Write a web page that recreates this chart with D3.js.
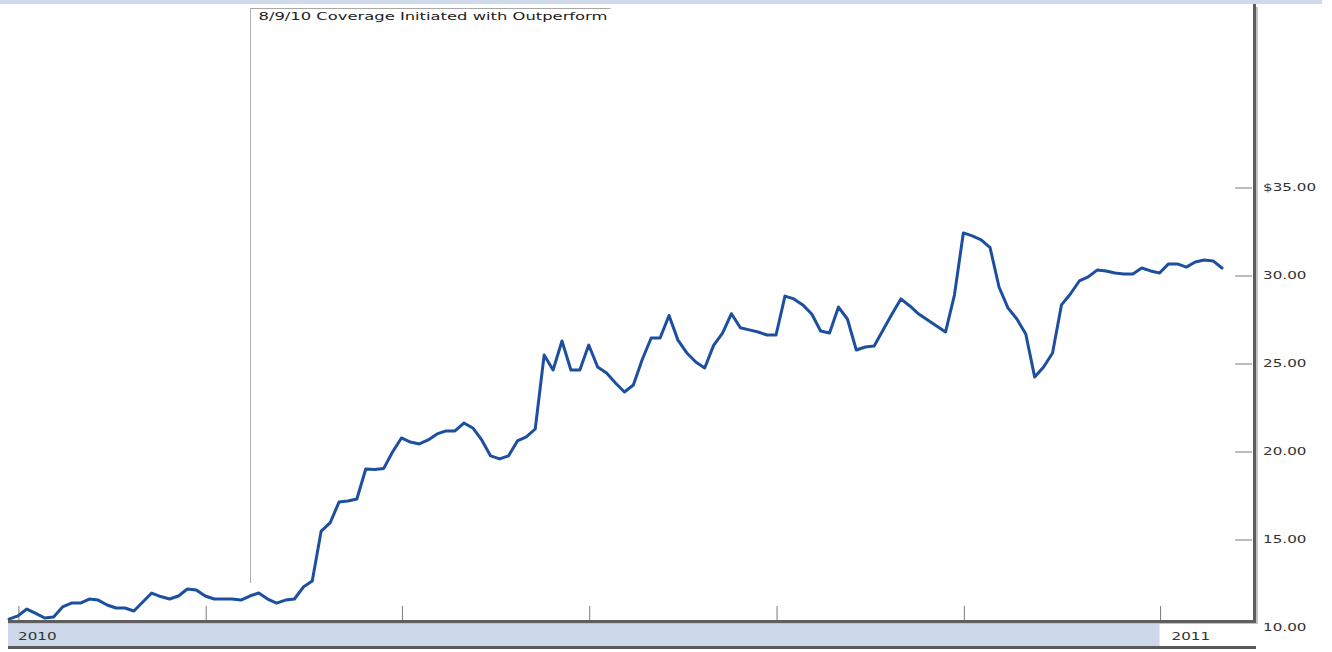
<!DOCTYPE html>
<html><head><meta charset="utf-8">
<script src="https://cdn.jsdelivr.net/npm/d3@7"></script>
<style>html,body{margin:0;padding:0;background:#fff;} svg{display:block;}</style>
</head><body><svg id="chart" width="1332" height="652"></svg>
<script>
// ---- data ----
const startDate = "2010-06-30";
const endDate = "2011-01-12";
const holidays = ["2010-07-05", "2010-09-06", "2010-11-25", "2010-12-24"];
const closes = [
  10.45, 10.63, 11.02, 10.77, 10.51, 10.57, 11.14, 11.36, 11.36, 11.59,
  11.53, 11.25, 11.08, 11.08, 10.91, 11.42, 11.93, 11.73, 11.59, 11.76,
  12.16, 12.10, 11.76, 11.59, 11.59, 11.59, 11.53, 11.76, 11.93, 11.59,
  11.36, 11.53, 11.59, 12.27, 12.61, 15.45, 15.91, 17.10, 17.16, 17.27,
  18.98, 18.95, 19.00, 19.94, 20.74, 20.51, 20.40, 20.63, 20.97, 21.14,
  21.14, 21.59, 21.31, 20.63, 19.72, 19.55, 19.72, 20.57, 20.80, 21.25,
  25.45, 24.60, 26.25, 24.60, 24.60, 26.02, 24.77, 24.43, 23.86, 23.35,
  23.75, 25.20, 26.42, 26.42, 27.70, 26.30, 25.57, 25.06, 24.72, 26.00,
  26.70, 27.80, 27.00, 26.88, 26.76, 26.59, 26.59, 28.80, 28.64, 28.30,
  27.78, 26.82, 26.70, 28.18, 27.50, 25.74, 25.91, 25.97, 26.88, 27.78,
  28.64, 28.24, 27.78, 27.44, 27.10, 26.76, 28.86, 32.39, 32.22, 31.99,
  31.55, 29.32, 28.13, 27.50, 26.65, 24.20, 24.77, 25.57, 28.30, 28.92,
  29.66, 29.89, 30.28, 30.23, 30.11, 30.06, 30.06, 30.40, 30.23, 30.11,
  30.63, 30.63, 30.45, 30.74, 30.85, 30.80, 30.40
];
const yTickValues = [10, 15, 20, 25, 30, 35];
const yTickLabels = ["10.00", "15.00", "20.00", "25.00", "30.00", "$35.00"];
const monthTickDates = ["2010-07-01", "2010-08-02", "2010-09-01", "2010-10-01", "2010-11-01", "2010-12-01", "2011-01-03"];
const yearLabels = ["2010", "2011"];
const yearStartDates = ["2010-06-30", "2011-01-03"];
const annotationDate = "2010-08-09";
const annotationText = "8/9/10 Coverage Initiated with Outperform";

// ---- trading calendar ----
const fmt = d3.utcFormat("%Y-%m-%d");
const tradingDays = d3.utcDays(new Date(startDate + "T00:00Z"), d3.utcDay.offset(new Date(endDate + "T00:00Z"), 1))
  .filter(d => d.getUTCDay() !== 0 && d.getUTCDay() !== 6 && !holidays.includes(fmt(d)))
  .map(fmt);
const idx = s => tradingDays.indexOf(s);

// ---- scales ----
const x = d3.scaleLinear().domain([0, tradingDays.length - 1]).range([9, 1222]);
const y = d3.scaleLinear().domain([10, 35]).range([627, 187]);

const svg = d3.select("#chart");
const TXT = "DejaVu Sans, Verdana, sans-serif";
const axisX = 1253, baseY = 620;

// top band
svg.append("rect").attr("x", 0).attr("y", 0).attr("width", 1322).attr("height", 4).attr("fill", "#cfdbeb");

// annotation
const ax = Math.round(x(idx(annotationDate))) + 0.5;
svg.append("line").attr("x1", ax).attr("x2", ax).attr("y1", 8).attr("y2", 583).attr("stroke", "#b0b0b0").attr("stroke-width", 1);
svg.append("line").attr("x1", ax).attr("x2", ax + 360).attr("y1", 8.5).attr("y2", 8.5).attr("stroke", "#a8a8a8").attr("stroke-width", 1);
svg.append("text").attr("x", ax + 8).attr("y", 20).attr("font-family", TXT).attr("font-size", 11)
  .attr("fill", "#222").attr("textLength", 349).attr("lengthAdjust", "spacingAndGlyphs").text(annotationText);

// x ticks (month starts)
const xAxis = d3.axisTop(x).tickValues(monthTickDates.map(idx)).tickSize(14).tickFormat("");
const gx = svg.append("g").attr("transform", `translate(0.5,${baseY})`).call(xAxis);
gx.select(".domain").remove();
gx.selectAll("line").attr("stroke", "#7a7a7a");

// y tick marks (left of the axis line)
const yTicksAxis = d3.axisLeft(y).tickValues(yTickValues.filter(v => v > 10)).tickSize(17).tickFormat("");
const gyt = svg.append("g").attr("transform", `translate(${axisX - 1},0.5)`).call(yTicksAxis);
gyt.select(".domain").remove();
gyt.selectAll("line").attr("stroke", "#7a7a7a");

// y labels (right of the axis line)
const yLabAxis = d3.axisRight(y).tickValues(yTickValues).tickSize(0).tickFormat((d, i) => yTickLabels[i]);
const gyl = svg.append("g").attr("transform", `translate(${axisX + 10},0)`).call(yLabAxis);
gyl.select(".domain").remove();
gyl.selectAll("text").attr("x", 0).attr("dy", "0.35em").attr("transform", "scale(1.38,1)")
  .attr("font-family", TXT).attr("font-size", 11).attr("fill", "#333");

// price line
svg.append("path").datum(closes)
  .attr("d", d3.line().x((d, i) => x(i)).y(d => y(d)))
  .attr("fill", "none").attr("stroke", "#1c4f9f").attr("stroke-width", 3)
  .attr("stroke-linejoin", "round").attr("stroke-linecap", "round");

// frame: right axis line and bottom axis line
svg.append("rect").attr("x", axisX).attr("y", 4).attr("width", 3).attr("height", baseY + 3 - 4).attr("fill", "#5e5e5e");
svg.append("rect").attr("x", axisX + 3).attr("y", 7).attr("width", 2).attr("height", baseY - 3).attr("fill", "#c4c4c4");
svg.append("rect").attr("x", 8).attr("y", baseY).attr("width", axisX + 3 - 8).attr("height", 3).attr("fill", "#5e5e5e");
svg.append("rect").attr("x", 8).attr("y", baseY + 3).attr("width", axisX + 5 - 8).attr("height", 1).attr("fill", "#c4c4c4");

// year band
const yearEdge = x(idx(yearStartDates[1]));
svg.append("rect").attr("x", 8).attr("y", baseY + 4).attr("width", yearEdge - 8).attr("height", 22).attr("fill", "#cdd9ea");
svg.append("rect").attr("x", 8).attr("y", baseY + 26).attr("width", axisX + 3 - 8).attr("height", 3).attr("fill", "#5a5a5a");
yearLabels.forEach((lab, i) => {
  const lx = i === 0 ? 18 : yearEdge + 12;
  svg.append("text").attr("transform", `translate(${lx},${baseY + 20}) scale(1.38,1)`)
    .attr("font-family", TXT).attr("font-size", 11).attr("fill", "#333").text(lab);
});
</script>
</body></html>
